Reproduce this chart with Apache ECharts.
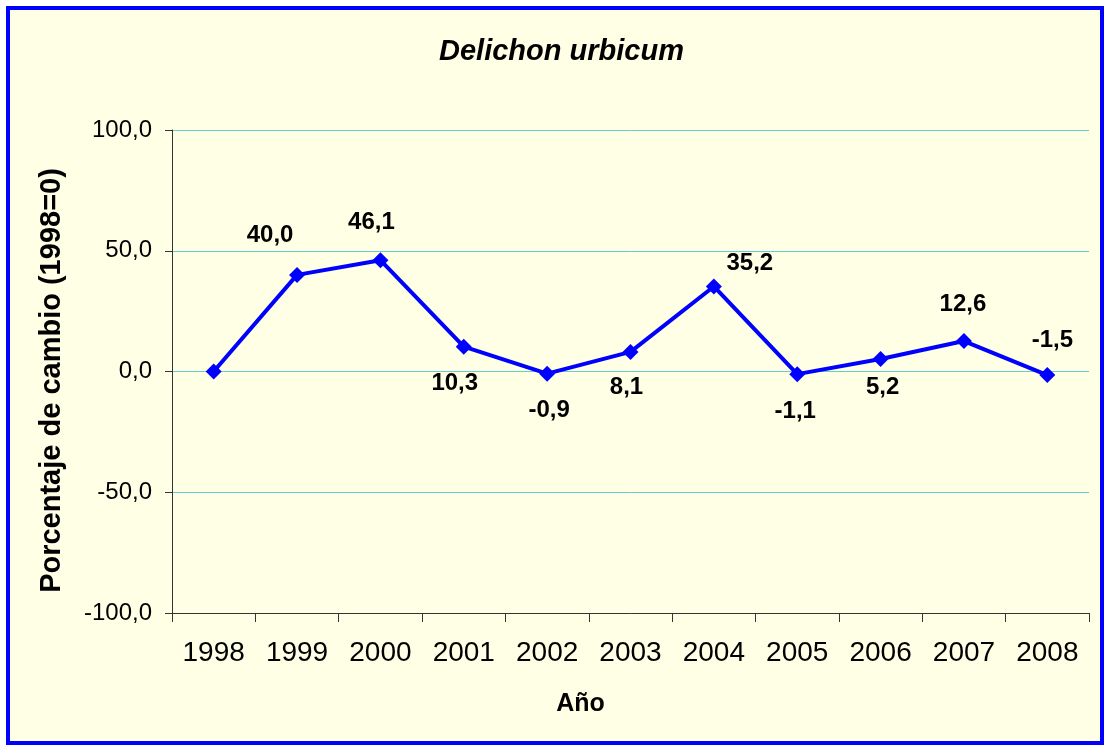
<!DOCTYPE html>
<html>
<head>
    <meta charset="utf-8">
    <title>Delichon urbicum</title>
    <script src="https://cdn.jsdelivr.net/npm/echarts@6/dist/echarts.min.js"></script>
    <style>
        body { margin: 0; background: #ffffff; }
    </style>
</head>
<body>
    <div id="main" style="width:1106px;height:747px"></div>
    <script type="text/javascript">
        // datos
        var years = ['1998', '1999', '2000', '2001', '2002', '2003', '2004', '2005', '2006', '2007', '2008'];
        var cambio = [0, 40.0, 46.1, 10.3, -0.9, 8.1, 35.2, -1.1, 5.2, 12.6, -1.5];
        var yTicks = [-100, -50, 0, 50, 100];
        // posicion de etiquetas (arriba/abajo y desplazamiento)
        var labelPos = ['none', 'top', 'top', 'bottom', 'bottom', 'bottom', 'top', 'bottom', 'bottom', 'top', 'top'];
        var labelOff = [[0, 0], [-27, -15], [-9, -13], [-9, 12], [2, 12], [-4, 10], [36, 2], [-2, 12], [2, 3], [-1, -12], [5, -10]];

        function fmt(v) { return v.toFixed(1).replace('.', ','); }

        var seriesData = cambio.map(function (v, i) {
            return {
                value: v,
                label: labelPos[i] === 'none' ? { show: false } : {
                    show: true,
                    position: labelPos[i],
                    offset: labelOff[i]
                }
            };
        });

        var myChart = echarts.init(document.getElementById('main'));
        myChart.setOption({
            animation: false,
            textStyle: { fontFamily: 'Liberation Sans, Arial, sans-serif' },
            graphic: [{
                type: 'rect',
                z: -10,
                shape: { x: 8, y: 8, width: 1094, height: 735 },
                style: { fill: '#FFFFE6', stroke: '#0000FF', lineWidth: 4 }
            }],
            title: {
                text: 'Delichon urbicum',
                left: 434,
                top: 32,
                textStyle: { fontSize: 29, fontStyle: 'italic', fontWeight: 'bold', color: '#000' }
            },
            grid: { left: 172, right: 17, top: 130, bottom: 134 },
            xAxis: {
                type: 'category',
                data: years,
                boundaryGap: true,
                name: 'Año',
                nameLocation: 'middle',
                nameGap: 79,
                nameTextStyle: { fontSize: 25, fontWeight: 'bold', color: '#000', padding: [0, 100, 0, 0] },
                axisLine: { onZero: false, lineStyle: { color: '#333', width: 1 } },
                axisTick: { show: true, alignWithLabel: false, length: 9, lineStyle: { color: '#333' } },
                axisLabel: { fontSize: 28, color: '#000', margin: 26 },
                splitLine: { show: false }
            },
            yAxis: {
                type: 'value',
                min: yTicks[0],
                max: yTicks[yTicks.length - 1],
                interval: 50,
                name: 'Porcentaje de cambio (1998=0)',
                nameLocation: 'middle',
                nameGap: 106,
                nameTextStyle: { fontSize: 29, fontWeight: 'bold', color: '#000', padding: [0, 18, 0, 0] },
                axisLine: { show: true, lineStyle: { color: '#333', width: 1 } },
                axisTick: { show: true, length: 7, lineStyle: { color: '#333' } },
                axisLabel: { fontSize: 24, color: '#000', margin: 20, formatter: fmt },
                splitLine: { show: true, lineStyle: { color: '#66CCCC', width: 1 } }
            },
            series: [{
                name: 'Delichon urbicum',
                type: 'line',
                data: seriesData,
                symbol: 'diamond',
                symbolSize: 16,
                lineStyle: { color: '#0000FF', width: 4 },
                itemStyle: { color: '#0000FF' },
                label: {
                    show: true,
                    fontSize: 24,
                    fontWeight: 'bold',
                    color: '#000',
                    distance: 5,
                    formatter: function (p) { return fmt(p.value); }
                }
            }]
        });
    </script>
</body>
</html>
